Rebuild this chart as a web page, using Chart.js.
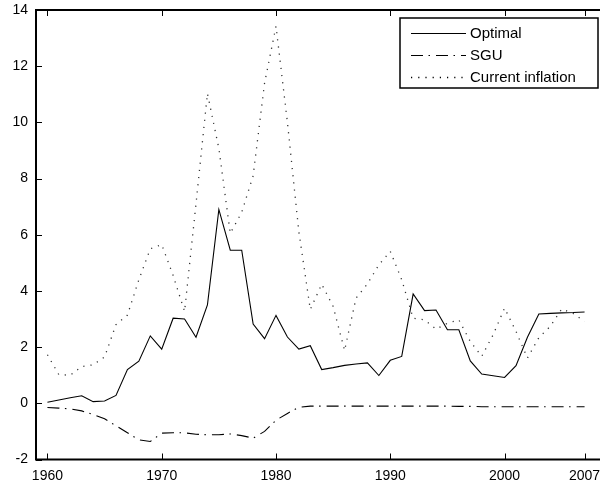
<!DOCTYPE html>
<html>
<head>
<meta charset="utf-8">
<script src="https://cdn.jsdelivr.net/npm/chart.js@4.4.1/dist/chart.umd.min.js"></script>
<style>
    body { margin: 0; background: #fff; }
    canvas { display: block; }
</style>
</head>
<body>
<canvas id="chart" width="600" height="488"></canvas>
<script>
const years = [];
for (let y = 1960; y <= 2007; y++) years.push(y);

const optimal = [0.04, 0.12, 0.2, 0.27, 0.06, 0.08, 0.28, 1.2, 1.5, 2.4,
    1.93, 3.03, 3.0, 2.35, 3.5, 6.9, 5.45, 5.45, 2.82, 2.3,
    3.13, 2.36, 1.93, 2.05, 1.2, 1.27, 1.35, 1.4, 1.44, 0.99,
    1.53, 1.67, 3.89, 3.3, 3.32, 2.62, 2.62, 1.51, 1.04, 0.98,
    0.92, 1.34, 2.35, 3.18, 3.2, 3.22, 3.23, 3.25];

const sgu = [-0.15, -0.17, -0.2, -0.27, -0.4, -0.55, -0.8, -1.05, -1.3, -1.36,
    -1.06, -1.05, -1.05, -1.1, -1.12, -1.12, -1.09, -1.15, -1.24, -1.0,
    -0.6, -0.36, -0.14, -0.1, -0.1, -0.1, -0.1, -0.1, -0.1, -0.1,
    -0.1, -0.1, -0.1, -0.1, -0.1, -0.1, -0.11, -0.11, -0.12, -0.12,
    -0.12, -0.12, -0.12, -0.12, -0.12, -0.12, -0.12, -0.12];

const inflation = [1.73, 1.02, 1.0, 1.31, 1.37, 1.65, 2.8, 3.14, 4.4, 5.5,
    5.65, 4.55, 3.27, 7.1, 11.03, 9.07, 6.05, 6.8, 8.1, 11.4,
    13.42, 10.0, 6.1, 3.34, 4.24, 3.45, 1.88, 3.74, 4.25, 4.93,
    5.41, 4.4, 3.03, 2.97, 2.64, 2.85, 2.97, 2.2, 1.67, 2.44,
    3.39, 2.56, 1.61, 2.34, 2.74, 3.36, 3.2, 2.91];

const xTicks = [1960, 1970, 1980, 1990, 2000, 2007];
const seriesNames = ['Optimal', 'SGU', 'Current inflation'];

const FONT = 'Arial, "Liberation Sans", sans-serif';
const toPoints = vals => years.map((y, i) => ({ x: y, y: vals[i] }));

// frame, inward ticks and boxed legend (drawn like the matlab figure)
const framePlugin = {
    id: 'frame',
    afterDraw(chart) {
        const ctx = chart.ctx;
        const { left, right, top, bottom } = chart.chartArea;
        const xs = chart.scales.x, ys = chart.scales.y;
        ctx.save();
        ctx.strokeStyle = '#000';
        ctx.lineWidth = 2;
        ctx.beginPath();
        ctx.moveTo(left, top); ctx.lineTo(right + 2, top);
        ctx.moveTo(left, top - 1); ctx.lineTo(left, bottom + 1);
        ctx.moveTo(left, bottom); ctx.lineTo(right + 2, bottom);
        ctx.stroke();

        ctx.lineWidth = 1;
        ctx.beginPath();
        xTicks.forEach(v => {
            const px = Math.round(xs.getPixelForValue(v)) + 0.5;
            ctx.moveTo(px, bottom); ctx.lineTo(px, bottom - 6);
            ctx.moveTo(px, top); ctx.lineTo(px, top + 6);
        });
        ys.ticks.forEach(t => {
            const py = Math.round(ys.getPixelForValue(t.value)) + 0.5;
            ctx.moveTo(left, py); ctx.lineTo(left + 6, py);
        });
        ctx.stroke();

        // legend
        const bx = 400, by = 18, bw = 198, bh = 70;
        ctx.fillStyle = '#fff';
        ctx.fillRect(bx, by, bw, bh);
        ctx.lineWidth = 1.5;
        ctx.strokeRect(bx, by, bw, bh);
        ctx.font = '15px ' + FONT;
        ctx.textBaseline = 'middle';
        ctx.fillStyle = '#000';
        chart.data.datasets.forEach((ds, i) => {
            const ly = 33 + i * 22;
            ctx.save();
            ctx.lineWidth = ds.borderWidth;
            ctx.setLineDash(ds.borderDash || []);
            ctx.beginPath();
            ctx.moveTo(411, ly + 0.5); ctx.lineTo(466, ly + 0.5);
            ctx.stroke();
            ctx.restore();
            ctx.fillText(ds.label, 470, ly + 1);
        });
        ctx.restore();
    }
};

new Chart(document.getElementById('chart'), {
    type: 'line',
    data: {
        datasets: [
            { label: seriesNames[0], data: toPoints(optimal), borderColor: '#000', borderWidth: 1.1 },
            { label: seriesNames[1], data: toPoints(sgu), borderColor: '#000', borderWidth: 1.1, borderDash: [12, 5.5, 1.5, 6] },
            { label: seriesNames[2], data: toPoints(inflation), borderColor: '#333', borderWidth: 1.3, borderDash: [1.2, 6] }
        ]
    },
    options: {
        responsive: false,
        animation: false,
        devicePixelRatio: 1,
        layout: { padding: { top: 10, right: 0, left: 0, bottom: 0 } },
        elements: { point: { radius: 0 }, line: { tension: 0 } },
        plugins: { legend: { display: false }, tooltip: { enabled: false } },
        scales: {
            x: {
                type: 'linear',
                min: 1959,
                max: 2008.35,
                grid: { display: false, drawTicks: false },
                border: { display: false },
                afterBuildTicks: scale => { scale.ticks = xTicks.map(v => ({ value: v })); },
                afterFit: scale => {
                    scale.height = 28.5;
                    scale.paddingLeft = 0;
                    scale.paddingRight = 0;
                },
                ticks: {
                    padding: 8,
                    color: '#000',
                    font: { family: FONT, size: 14 },
                    maxRotation: 0,
                    autoSkip: false,
                    callback: v => String(v)
                }
            },
            y: {
                min: -2,
                max: 14,
                grid: { display: false, drawTicks: false },
                border: { display: false },
                afterFit: scale => {
                    scale.width = 36;
                    scale.paddingTop = 0;
                    scale.paddingBottom = 0;
                },
                ticks: {
                    stepSize: 2,
                    padding: 8,
                    color: '#000',
                    font: { family: FONT, size: 14 }
                }
            }
        }
    },
    plugins: [framePlugin]
});
</script>
</body>
</html>
